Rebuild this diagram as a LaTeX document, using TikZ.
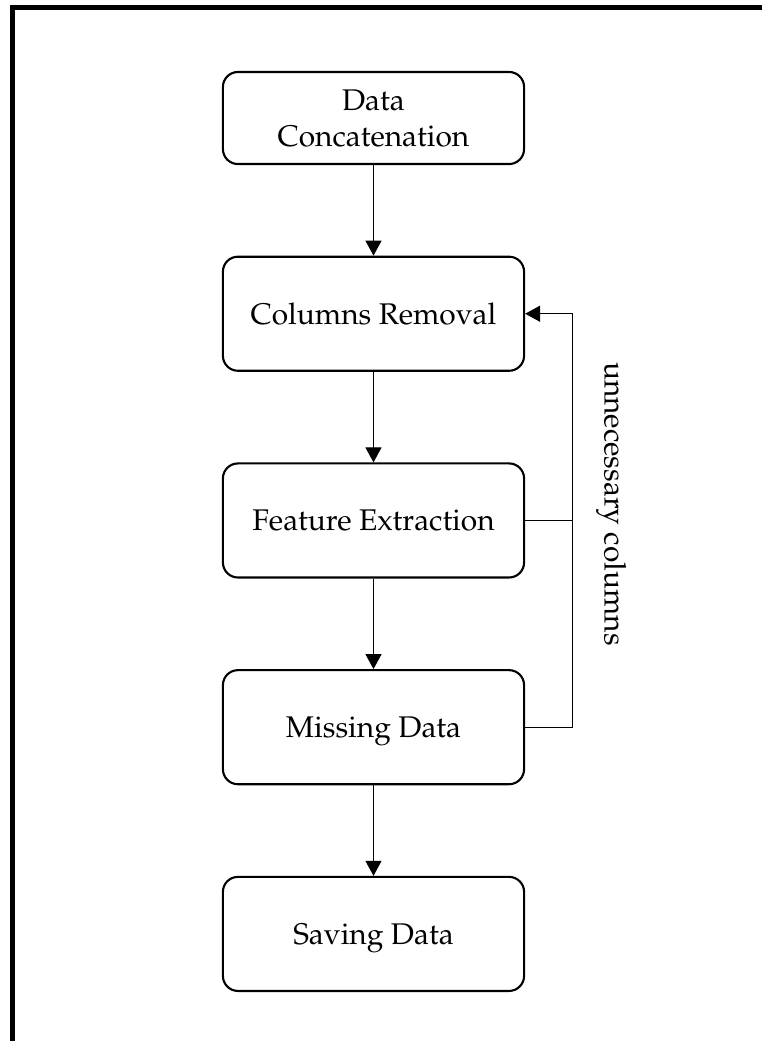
\documentclass[tikz,border=0pt]{standalone}
\usepackage[T1]{fontenc}
\usepackage{mathpazo}
\usepackage{tikz}
\usetikzlibrary{arrows.meta,positioning}
\tikzstyle{stage}=[draw,line width=0.6pt,rounded corners=0.15cm,minimum width=3.01cm,minimum height=1.14cm,align=center,inner sep=1pt,text depth=0pt,font=\fontsize{8.5}{10.2}\selectfont]
\tikzstyle{flow}=[line width=0.35pt,-{Triangle[width=0.16cm,length=0.15cm]}]
\tikzstyle{frame}=[line width=1.3pt]

\begin{document}
\begin{tikzpicture}[x=0.01cm,y=-0.01cm,node distance=0.905cm]
  \useasboundingbox (0,0) rectangle (762,1041);
  \clip (0,0) rectangle (762,1041);
  \draw[frame] (12.7,1060) |- (780,7.5);

  \node[stage,minimum height=0.92cm] (concat) at (373.5,118) {Data\\Concatenation};
  \node[stage] (colrem) [below=of concat] {Columns Removal};
  \node[stage] (feat)   [below=of colrem] {Feature Extraction};
  \node[stage] (miss)   [below=of feat]   {Missing Data};
  \node[stage] (save)   [below=of miss]   {Saving Data};

  \draw[flow] (concat) -- (colrem);
  \draw[flow] (colrem) -- (feat);
  \draw[flow] (feat) -- (miss);
  \draw[flow] (miss) -- (save);

  % loop back for columns not needed
  \coordinate[right=0.47cm of miss.east] (turn);
  \draw[line width=0.35pt] (feat.east) -- (feat.east -| turn);
  \draw[flow] (miss.east) -- (turn) |- (colrem.east)
    node[pos=0.27,xshift=0.39cm,rotate=-90,font=\fontsize{8.5}{10.2}\selectfont] (why) {unnecessary columns};
\end{tikzpicture}
\end{document}
